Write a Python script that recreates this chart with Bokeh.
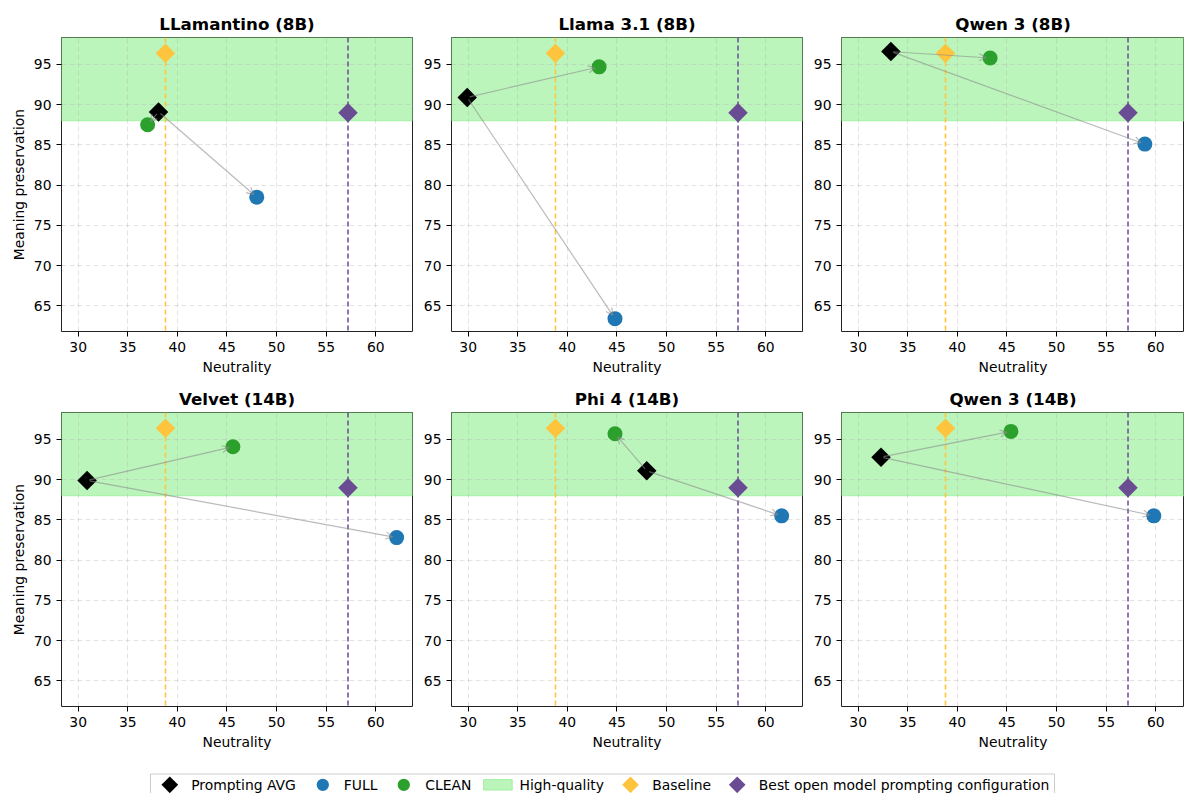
import numpy as np
from bokeh.plotting import figure
from bokeh.models import (Span, BoxAnnotation, Arrow, OpenHead, FixedTicker,
                          Range1d)
from bokeh.core.properties import value
from bokeh.layouts import column, row
from bokeh.embed import file_html
from bokeh.resources import INLINE

# ---------------- data ----------------
models = ["LLamantino (8B)", "Llama 3.1 (8B)", "Qwen 3 (8B)",
          "Velvet (14B)", "Phi 4 (14B)", "Qwen 3 (14B)"]
avg_x = [38.1, 29.9, 33.3, 30.9, 48.0, 32.3]
avg_y = [89.1, 90.9, 96.6, 89.9, 91.1, 92.8]
full_x = [48.0, 44.8, 58.9, 62.1, 61.6, 59.8]
full_y = [78.5, 63.4, 85.1, 82.8, 85.5, 85.5]
clean_x = [37.0, 43.2, 43.3, 45.6, 44.8, 45.4]
clean_y = [87.5, 94.7, 95.8, 94.1, 95.7, 96.0]
baseline_x = [38.8]
baseline_y = [96.4]
best_x = [57.2]
best_y = [89.0]
hq_threshold = 88.0
x_ticks = [30, 35, 40, 45, 50, 55, 60]
y_ticks = [65, 70, 75, 80, 85, 90, 95]
legend_labels = ["Prompting AVG", "FULL", "CLEAN", "High-quality", "Baseline",
                 "Best open model prompting configuration"]

# ---------------- style ----------------
FONT = "DejaVu Sans"
C_AVG = "black"
C_FULL = "#1f77b4"
C_CLEAN = "#2ca02c"
C_HQ = "#90ee90"
C_BASE = "#ffc43d"
C_BEST = "#6a4c93"
C_ARROW = "#8c8c8c"

X0, X1 = 28.32, 63.70
Y0, Y1 = 61.8, 98.35
FRAME_W, FRAME_H = 351, 294
PX_X = FRAME_W / (X1 - X0)
PX_Y = FRAME_H / (Y1 - Y0)
DIAMOND = 13.8
CIRCLE = 15


def shrink(xs, ys, xe, ye, s0, s1):
    dxp = (xe - xs) * PX_X
    dyp = (ye - ys) * PX_Y
    L = np.hypot(dxp, dyp)
    ux, uy = dxp / L, dyp / L
    return (xs + ux * s0 / PX_X, ys + uy * s0 / PX_Y,
            xe - ux * s1 / PX_X, ye - uy * s1 / PX_Y)


def make_panel(i):
    col = i % 3
    rw = i // 3
    left = 61 if col == 0 else 37
    if col < 2:
        fw, right = FRAME_W, 2
    else:
        fw, right = 343, 0
    top = 37 if rw == 0 else 35
    bottom = 46
    x_end = X0 + fw / PX_X
    p = figure(width=left + fw + right, height=top + FRAME_H + bottom,
               x_range=Range1d(X0, x_end), y_range=Range1d(Y0, Y1),
               output_backend="svg", toolbar_location=None,
               min_border_left=left, min_border_right=right,
               min_border_top=top, min_border_bottom=bottom,
               title=models[i])
    p.title.align = "center"
    p.title.text_font = FONT
    p.title.text_font_size = "16.7px"
    p.title.text_font_style = "bold"
    p.title.text_color = "black"
    p.title.standoff = 7

    p.outline_line_color = "#222222"
    p.outline_line_width = 1
    p.background_fill_color = "white"

    for ax in (p.xaxis[0], p.yaxis[0]):
        ax.axis_line_color = None
        ax.major_tick_line_color = "black"
        ax.major_tick_out = 5
        ax.major_tick_in = 0
        ax.minor_tick_line_color = None
        ax.major_label_text_font = FONT
        ax.major_label_text_font_size = "13.9px"
        ax.major_label_text_color = "black"
        ax.major_label_standoff = 5
        ax.axis_label_text_font = FONT
        ax.axis_label_text_font_size = "13.9px"
        ax.axis_label_text_font_style = "normal"
        ax.axis_label_text_color = "black"
        ax.axis_label_standoff = 4
    p.xaxis.ticker = FixedTicker(ticks=x_ticks)
    p.yaxis.ticker = FixedTicker(ticks=y_ticks)
    p.xaxis.axis_label = "Neutrality"
    if col == 0:
        p.yaxis.axis_label = "Meaning preservation"

    p.grid.grid_line_color = "#b0b0b0"
    p.grid.grid_line_alpha = 0.35
    p.grid.grid_line_dash = "5 3"
    p.grid.grid_line_width = 1
    p.xgrid.ticker = FixedTicker(ticks=x_ticks)
    p.ygrid.ticker = FixedTicker(ticks=y_ticks)

    band = BoxAnnotation(bottom=hq_threshold, fill_color=C_HQ, fill_alpha=0.6,
                         line_color=C_HQ, line_alpha=0.7, line_width=1,
                         level="image")
    p.add_layout(band)

    p.add_layout(Span(location=baseline_x[0], dimension="height",
                      line_color=C_BASE, line_dash="5 3", line_width=1.6,
                      level="underlay"))
    p.add_layout(Span(location=best_x[0], dimension="height",
                      line_color=C_BEST, line_dash="5 3", line_width=1.5,
                      level="underlay"))

    p.scatter([full_x[i]], [full_y[i]], marker="circle", size=CIRCLE,
              color=C_FULL, line_width=0)
    p.scatter([clean_x[i]], [clean_y[i]], marker="circle", size=CIRCLE,
              color=C_CLEAN, line_width=0)
    p.scatter([avg_x[i]], [avg_y[i]], marker="square", angle=np.pi / 4,
              size=DIAMOND, color=C_AVG, line_width=0)
    p.scatter(baseline_x, baseline_y, marker="square", angle=np.pi / 4,
              size=DIAMOND, color=C_BASE, line_width=0)
    p.scatter(best_x, best_y, marker="square", angle=np.pi / 4,
              size=DIAMOND, color=C_BEST, line_width=0)

    for tx, ty in ((clean_x[i], clean_y[i]), (full_x[i], full_y[i])):
        xs, ys, xe, ye = shrink(avg_x[i], avg_y[i], tx, ty, 2.5, 4.0)
        p.add_layout(Arrow(
            end=OpenHead(size=7, line_color=C_ARROW, line_alpha=0.6,
                         line_width=1.2),
            x_start=xs, y_start=ys, x_end=xe, y_end=ye,
            line_color=C_ARROW, line_alpha=0.6, line_width=1.2))
    return p


panels = [make_panel(i) for i in range(6)]

# ---------------- legend (drawn in a pixel-unit strip) ----------------
LEG_TOP = 752          # page y where the strip starts
LEG_H = 41
leg = figure(width=1184, height=LEG_H, output_backend="svg",
             toolbar_location=None, min_border=0, x_axis_type=None,
             y_axis_type=None, x_range=Range1d(0, 1184),
             y_range=Range1d(LEG_TOP + LEG_H, LEG_TOP),
             outline_line_color=None)
leg.grid.visible = False
box_l, box_r, box_t, box_b = 150, 1054, 773.5, 797
leg.quad(left=[box_l], right=[box_r], top=[box_t], bottom=[box_b],
         fill_color="white", fill_alpha=0.8, line_color="#cccccc",
         line_width=1)
item_cy = 784.3
glyph_cx = [169.3, 322.3, 403.3, 497.4, 630.0, 736.7]
text_x0 = [190.7, 343.3, 424.7, 519.0, 651.7, 758.3]
markers = ["square", "circle", "circle", None, "square", "square"]
colors = [C_AVG, C_FULL, C_CLEAN, C_HQ, C_BASE, C_BEST]
for m, c, gx in zip(markers, colors, glyph_cx):
    if m == "square":
        leg.scatter([gx], [item_cy], marker="square", angle=np.pi / 4,
                    size=11.8, color=c, line_width=0)
    elif m == "circle":
        leg.scatter([gx], [item_cy], marker="circle", size=12.3, color=c,
                    line_width=0)
    else:
        leg.quad(left=[gx - 14.3], right=[gx + 14.3], top=[item_cy - 5.2],
                 bottom=[item_cy + 5.2], fill_color=c, fill_alpha=0.6,
                 line_color=c, line_alpha=0.8, line_width=1)
leg.text(x=text_x0, y=[item_cy] * len(text_x0), text=legend_labels,
         text_font=value(FONT), text_font_size="13.9px", text_color="black",
         text_baseline="middle", text_align="left")

layout = column(row(*panels[:3]), row(*panels[3:]), leg)

with open("out.html", "w") as f:
    f.write(file_html(layout, INLINE))
